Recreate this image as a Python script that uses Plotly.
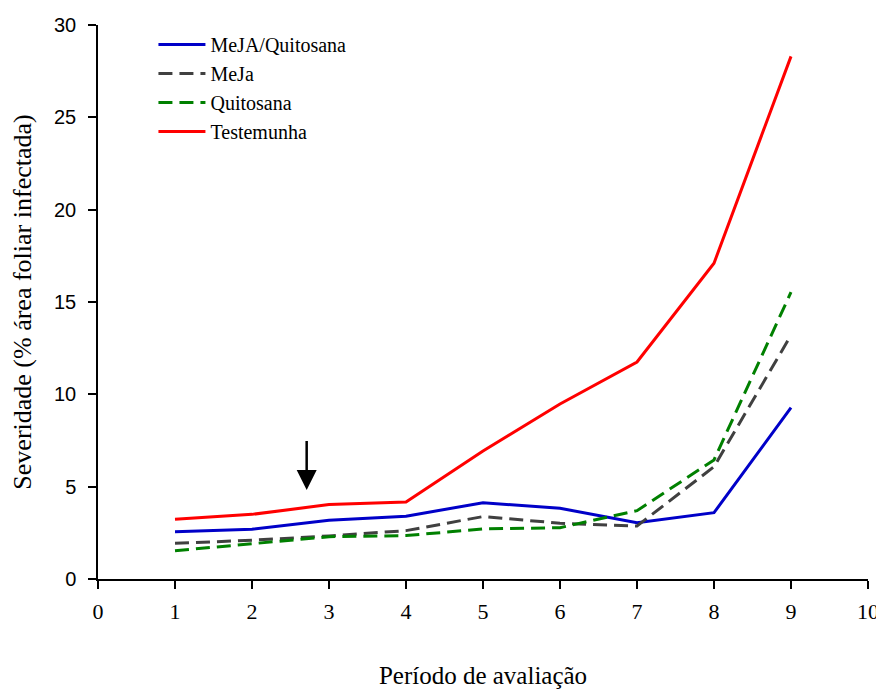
import plotly.graph_objects as go

periodos = [1, 2, 3, 4, 5, 6, 7, 8, 9]
meja_quitosana = [2.56, 2.69, 3.18, 3.40, 4.13, 3.83, 3.05, 3.59, 9.28]
meja = [1.93, 2.10, 2.33, 2.62, 3.38, 3.02, 2.87, 6.08, 13.2]
quitosana = [1.53, 1.93, 2.29, 2.35, 2.71, 2.78, 3.70, 6.45, 15.53]
testemunha = [3.23, 3.50, 4.03, 4.17, 6.93, 9.48, 11.75, 17.1, 28.3]

x_ticks = list(range(0, 11))
y_ticks = [0, 5, 10, 15, 20, 25, 30]

arrow_x = 2.71
arrow_tail_y = 7.55
arrow_head_y = 4.82

serif = "Liberation Serif, Times New Roman, serif"
sans = "Liberation Sans, Arial, sans-serif"

fig = go.Figure()
fig.add_trace(go.Scatter(x=periodos, y=meja_quitosana, mode="lines", name="MeJA/Quitosana",
                         line=dict(color="#0000c8", width=3)))
fig.add_trace(go.Scatter(x=periodos, y=meja, mode="lines", name="MeJa",
                         line=dict(color="#404040", width=3, dash="14px,7px")))
fig.add_trace(go.Scatter(x=periodos, y=quitosana, mode="lines", name="Quitosana",
                         line=dict(color="#008000", width=3, dash="14px,7px")))
fig.add_trace(go.Scatter(x=periodos, y=testemunha, mode="lines", name="Testemunha",
                         line=dict(color="#ff0000", width=3)))

fig.add_annotation(x=arrow_x, y=arrow_head_y, ax=arrow_x, ay=arrow_tail_y,
                   xref="x", yref="y", axref="x", ayref="y",
                   showarrow=True, arrowhead=2, arrowsize=1.6, arrowwidth=2.5,
                   arrowcolor="black", text="")

fig.update_layout(
    width=876, height=681,
    margin=dict(l=90, r=16, t=17, b=110),
    paper_bgcolor="white", plot_bgcolor="white",
    showlegend=True,
    legend=dict(x=0.072, y=1.0, xanchor="left", yanchor="top",
                font=dict(family=serif, size=20, color="black"),
                bgcolor="rgba(0,0,0,0)", tracegroupgap=0, itemwidth=47),
)
fig.update_xaxes(range=[0, 10], tickvals=x_ticks, ticktext=[str(v) for v in x_ticks],
                 automargin=False,
                 showgrid=False, zeroline=False, showline=True, linecolor="black", linewidth=1.5,
                 ticks="outside", ticklen=8, tickcolor="black", tickwidth=1.5,
                 ticklabelstandoff=4,
                 tickfont=dict(family=serif, size=22, color="black"),
                 title=dict(text="Período de avaliação", font=dict(family=serif, size=25, color="black"), standoff=44))
fig.update_yaxes(range=[0, 30], tickvals=y_ticks,
                 automargin=False,
                 showgrid=False, zeroline=False, showline=True, linecolor="black", linewidth=1.5,
                 ticks="outside", ticklen=8, tickcolor="black", tickwidth=1.5,
                 ticklabelstandoff=8,
                 tickfont=dict(family=sans, size=20, color="black"),
                 title=dict(text="Severidade (% área foliar infectada)", font=dict(family=serif, size=26, color="black"), standoff=17))

fig.write_html("out.html")
